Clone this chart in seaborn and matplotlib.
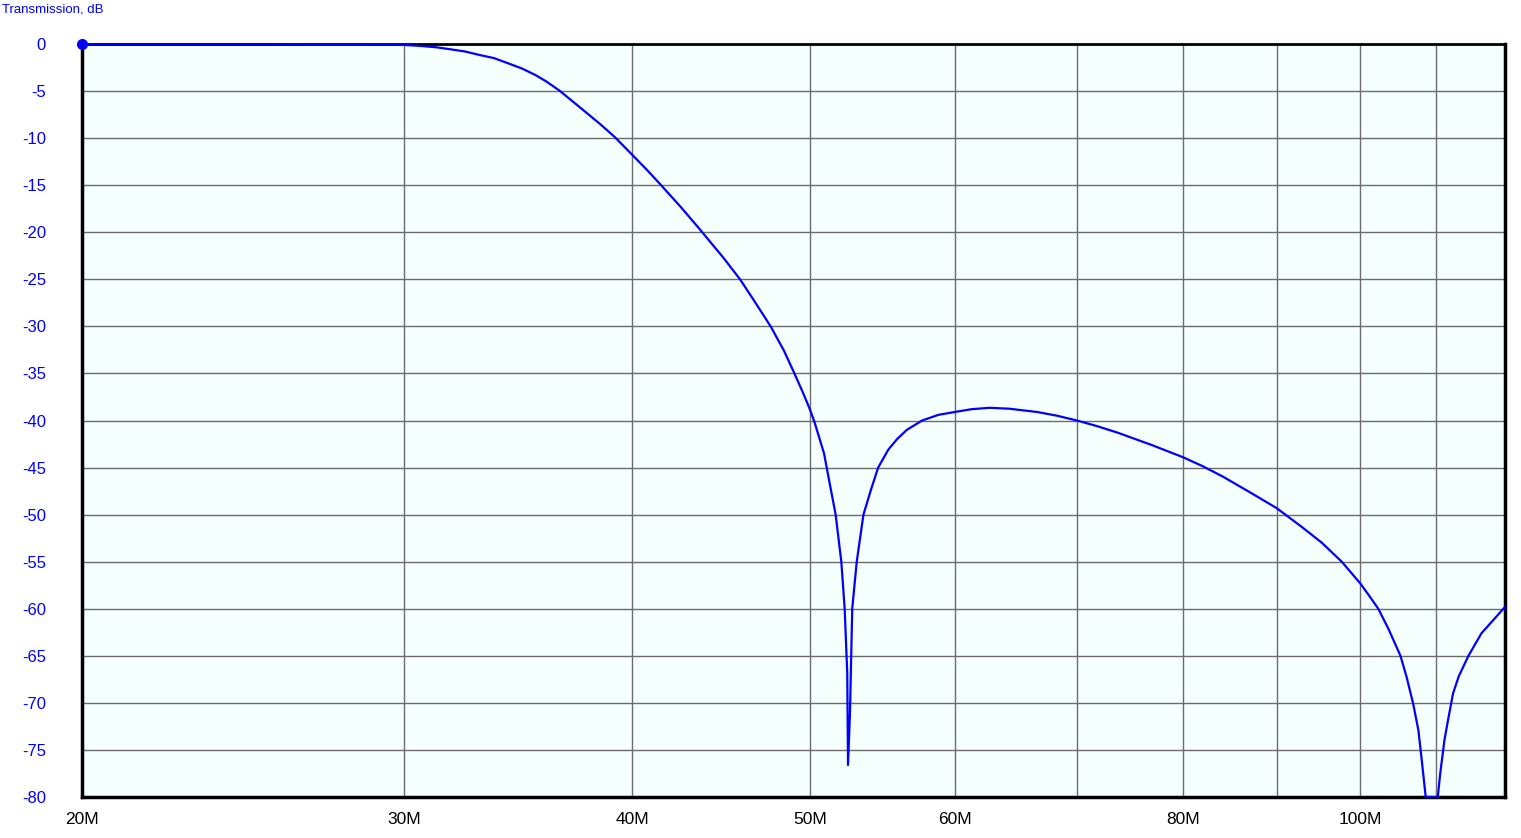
import numpy as np
import pandas as pd
import matplotlib
matplotlib.use("Agg")
import matplotlib.pyplot as plt
import seaborn as sns

# frequência em MHz e transmissão em dB
freq_mhz = [20.0, 25.0, 30.0, 30.6, 31.25, 31.8, 32.4, 33.0, 33.6, 34.2, 34.8, 35.4,
            35.9, 36.49, 37.4, 38.4, 39.1, 40.0, 40.7, 41.4, 42.5, 43.5, 44.89,
            45.8, 46.63, 47.6, 48.41, 49.02, 49.54, 49.96, 50.27, 50.6, 50.91, 51.23,
            51.66, 52.03, 52.25, 52.42, 52.47, 52.6, 52.75, 53.05, 53.5, 54.0, 54.5,
            55.2, 55.8, 56.5, 57.6, 58.8, 60.0, 61.3, 62.7, 64.3, 66.6, 68.3, 70.0,
            71.8, 73.7, 76.9, 80.0, 82.0, 84.1, 86.9, 90.0, 92.9, 95.3, 97.7, 100.0,
            101.04, 102.3, 103.6, 105.2, 106.0, 106.9, 107.6, 108.06, 108.6, 110.26,
            110.6, 111.2, 111.7, 112.4, 113.2, 114.6, 116.5, 118.5, 120.0]
trans_db = [0.0, 0.0, -0.1, -0.2, -0.35, -0.56, -0.8, -1.17, -1.5, -2.05, -2.6, -3.3,
            -4.0, -4.96, -6.66, -8.5, -9.85, -11.8, -13.3, -14.85, -17.3, -19.6, -22.8,
            -25.0, -27.3, -30.0, -32.6, -34.9, -36.9, -38.6, -40.0, -41.8, -43.5, -46.3,
            -50.0, -55.0, -60.0, -66.8, -76.6, -71.1, -60.0, -55.0, -50.0, -47.4, -45.0,
            -43.1, -42.0, -41.0, -40.0, -39.4, -39.1, -38.8, -38.65, -38.75, -39.1, -39.5, -40.0,
            -40.6, -41.3, -42.6, -43.9, -44.85, -45.95, -47.55, -49.3, -51.3, -53.0, -55.0, -57.3,
            -58.5, -60.0, -62.1, -65.0, -67.2, -70.1, -72.9, -76.1, -80.0, -80.0,
            -77.5, -73.9, -71.8, -69.0, -67.2, -65.0, -62.6, -61.0, -59.8]

grid_freqs = [20, 30, 40, 50, 60, 70, 80, 90, 100, 110]
x_labels = ["20M", "30M", "40M", "50M", "60M", "", "80M", "", "100M", ""]
y_ticks = list(range(0, -85, -5))

df = pd.DataFrame({"freq": np.array(freq_mhz) * 1e6, "db": trans_db})

sns.set_style("white")
plt.rcParams['font.family'] = ['Liberation Sans', 'DejaVu Sans']

fig = plt.figure(figsize=(15.21, 8.38), dpi=100)
ax = fig.add_axes([82 / 1521, 1 - 797 / 838, (1505 - 82) / 1521, (797 - 44) / 838])
ax.set_facecolor("#f5fffe")

sns.lineplot(data=df, x="freq", y="db", ax=ax, color="#0000ff", linewidth=1.6,
             estimator=None, sort=False, zorder=3)
ax.plot([df["freq"].iloc[0]], [df["db"].iloc[0]], "o", color="#0000ff",
        markersize=7, zorder=4, clip_on=False)

ax.set_xscale("log")
ax.set_xlim(20e6, 120e6)
ax.set_ylim(-80, 0)
ax.set_xticks([f * 1e6 for f in grid_freqs])
ax.set_xticklabels(x_labels)
ax.xaxis.set_minor_locator(matplotlib.ticker.NullLocator())
ax.set_yticks(y_ticks)
ax.set_yticklabels([str(v) for v in y_ticks])

ax.grid(True, color="#6b6b6b", linewidth=1.0, zorder=1)
ax.tick_params(axis="x", length=0, pad=11, labelsize=12.5, labelcolor="black")
ax.tick_params(axis="y", length=0, pad=26, labelsize=12, labelcolor="#0000ff")
for lbl in ax.get_yticklabels():
    lbl.set_horizontalalignment("right")

for side in ["left", "bottom", "right"]:
    ax.spines[side].set_linewidth(2.5)
    ax.spines[side].set_color("black")
ax.spines["top"].set_linewidth(2.0)
ax.spines["top"].set_color("black")

ax.set_xlabel("")
ax.set_ylabel("")
fig.text(2 / 1521, 1 - 10 / 838, "Transmission, dB", color="#0000ff", fontsize=9.5,
         ha="left", va="center")

fig.savefig("out.png", dpi=100)
